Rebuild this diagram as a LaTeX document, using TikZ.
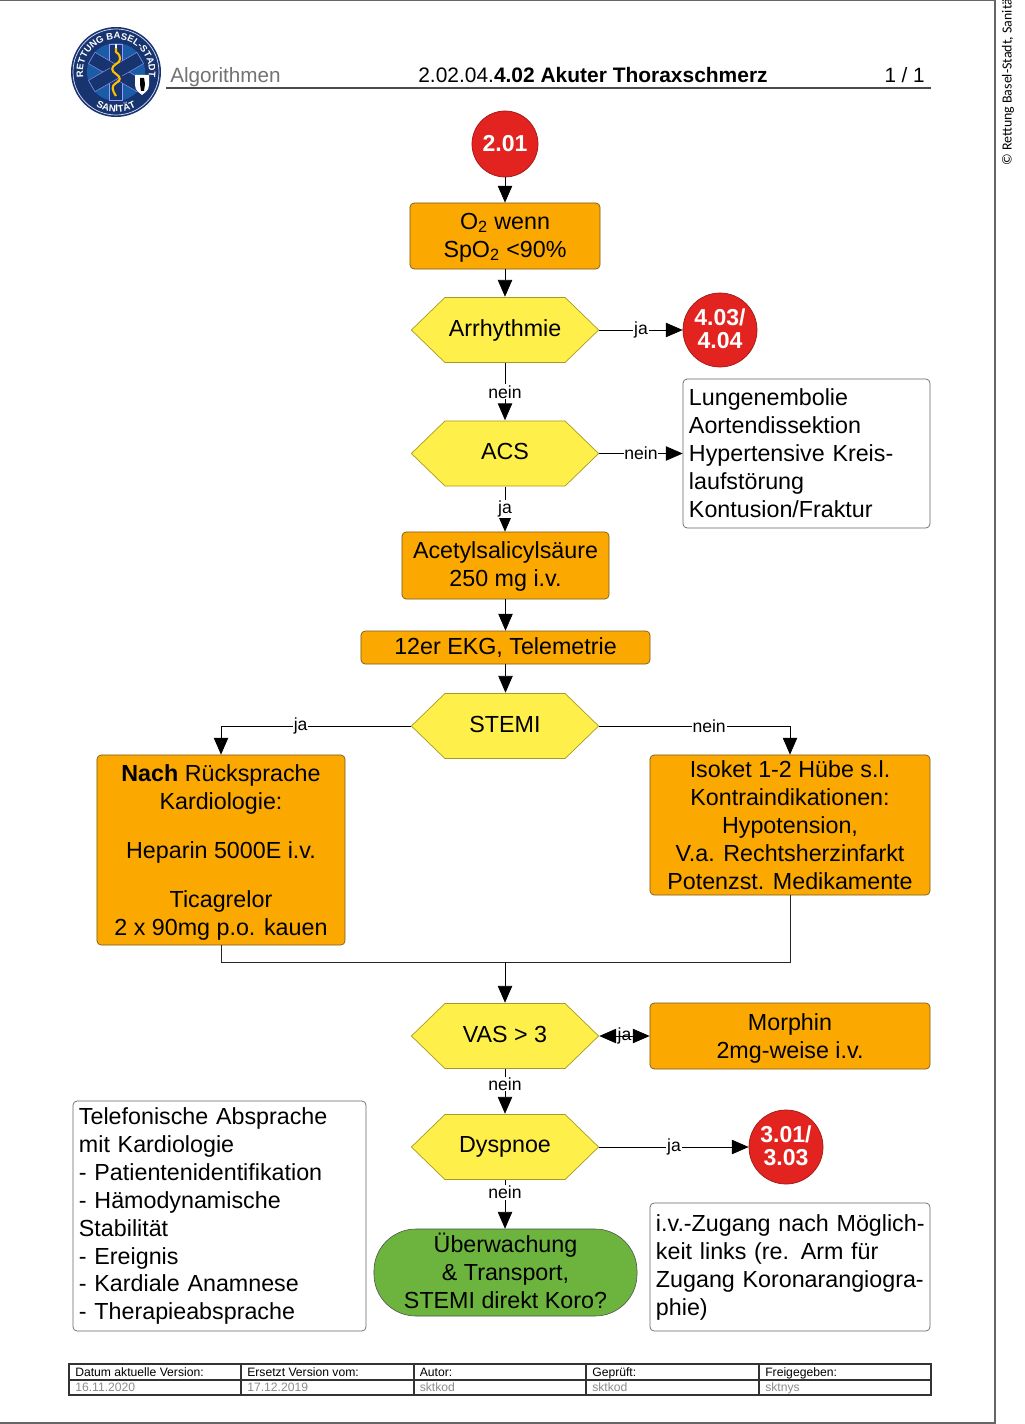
\documentclass[tikz,border=0pt]{standalone}
\usepackage{fontspec}
\setmainfont{Liberation Sans}
\newfontfamily\creditfont{Carlito}
\usetikzlibrary{arrows.meta,decorations.text}
\definecolor{boxorange}{HTML}{FBA900}
\definecolor{boxedge}{HTML}{7A5A1E}
\definecolor{hexyellow}{HTML}{FFEF4A}
\definecolor{hexedge}{HTML}{A89A20}
\definecolor{stopred}{HTML}{E3231F}
\definecolor{endgreen}{HTML}{6DB43F}
\definecolor{badgenavy}{HTML}{17346E}
\definecolor{badgeblue}{HTML}{1B5CA6}
\newcommand{\bodyfont}{\fontsize{16.55}{19.9}\selectfont}
\newcommand{\toppad}[1]{\rule{0pt}{#1}}
\newcommand{\lowpad}[1]{\rule[-#1]{0pt}{1pt}}
\tikzset{
	flow/.style={draw=black,line width=0.5pt,-{Triangle[length=4.2mm,width=3.6mm]}},
	plainline/.style={draw=black!85,line width=0.5pt},
	edgelabel/.style={fill=white,inner sep=0.6pt,font=\fontsize{12.5}{14}\selectfont},
	orangebox/.style={draw=boxedge,fill=boxorange,rounded corners=3pt,inner sep=0pt,align=center,font=\bodyfont,line width=0.5pt},
	notebox/.style={draw=black!60,fill=white,rounded corners=3pt,inner sep=0pt,align=left,font=\bodyfont,line width=0.5pt},
	decide/.style={rectangle,inner sep=0pt,minimum width=4.7cm,minimum height=1.65cm,align=center,font=\bodyfont,
		path picture={\draw[hexedge,fill=hexyellow,line width=0.5pt]
			([xshift=0.3pt]path picture bounding box.west)
			-- ([xshift=0.85cm,yshift=-0.3pt]path picture bounding box.north west)
			-- ([xshift=-0.85cm,yshift=-0.3pt]path picture bounding box.north east)
			-- ([xshift=-0.3pt]path picture bounding box.east)
			-- ([xshift=-0.85cm,yshift=0.3pt]path picture bounding box.south east)
			-- ([xshift=0.85cm,yshift=0.3pt]path picture bounding box.south west)
			-- cycle;}},
	jumpto/.style={circle,draw=stopred!70!black,fill=stopred,text=white,inner sep=0pt,align=center,line width=0.5pt,font=\fontsize{16.4}{16.4}\selectfont\bfseries},
	footcell/.style={anchor=base west,inner sep=0pt,font=\fontsize{8.65}{10}\selectfont},
}
\begin{document}
\begin{tikzpicture}[x=0.025cm,y=-0.025cm]
	\useasboundingbox (0,0) rectangle (1024,1424);
	\fill[white] (0,0) rectangle (1024,1424);
	% page frame
	\draw[black!60,line width=0.8pt] (0,0) -- (995,0) -- (995,1423) -- (0,1423);
	\node[rotate=90,anchor=west,inner sep=0pt,font=\creditfont\fontsize{9.9}{12}\selectfont] (credit) at (1008,166) {© Rettung Basel-Stadt, Sanität};

	% badge
	\begin{scope}[shift={(116,72)},x=0.025cm,y=0.025cm]
		\fill[badgenavy] (0,0) circle (45);
		\draw[white!85!blue,line width=0.5pt] (0,0) circle (43);
		\fill[badgeblue] (0,0) circle (29);
		\foreach \ang in {0,60,120}
			\draw[rotate=\ang,fill=badgenavy,draw=white!60!blue,line width=0.3pt] (-6.5,-28) rectangle (6.5,28);
		\fill[badgenavy] (-6,-6) rectangle (6,6);
		\draw[orange!50!yellow,line width=1.5pt] (0,24) -- (0,20) .. controls (6,16) and (5,10) .. (0,8) .. controls (-5,5) and (-5,1) .. (0,-2) .. controls (5,-5) and (5,-9) .. (0,-11) .. controls (-5,-14) and (-4,-18) .. (0,-24);
		\draw[white,line width=1pt] (0,24) -- (0,28);
		\fill[white] (19,-3) -- (33,-3) -- (33,-13) .. controls (33,-19) and (28,-21) .. (26,-23) .. controls (24,-21) and (19,-19) .. (19,-13) -- cycle;
		\fill[black] (24,-6) -- (28,-6) -- (29,-12) -- (28,-19) -- (25,-19) -- (24,-12) -- cycle;
		\path[decorate,decoration={text along path,text align=center,text={|\fontsize{6.7}{8}\selectfont\bfseries\color{white}|RETTUNG BASEL-STADT}}] (-31,-11.3) arc (200:-20:33);
		\path[decorate,decoration={text along path,text align=center,text={|\fontsize{6.9}{8}\selectfont\bfseries\color{white}|SANITÄT}}] (-31.5,-24.6) arc (218:322:40);
	\end{scope}

	% header
	\node[anchor=base west,inner sep=0pt,text=black!55,font=\fontsize{14.7}{17}\selectfont] (section) at (170,83) {Algorithmen};
	\node[anchor=base west,inner sep=0pt,font=\fontsize{14.9}{17}\selectfont] (title) at (418,83) {2.02.04.\textbf{4.02 Akuter Thoraxschmerz}};
	\node[anchor=base east,inner sep=0pt,font=\fontsize{14.7}{17}\selectfont] (page) at (925,83) {1 / 1};
	\draw[black!70,line width=0.8pt] (166,88) -- (931,88);

	% flow nodes
	\node[jumpto,minimum size=1.65cm] (start) at (505,144) {2.01};
	\node[orangebox,minimum width=4.75cm,minimum height=1.65cm] (oxygen) at (505,236) {\toppad{13.5pt}O\textsubscript{2} wenn\\SpO\textsubscript{2} <90\%};
	\node[decide] (arrhythmia) at (505,330) {Arrhythmie};
	\node[jumpto,minimum size=1.85cm] (arrhyjump) at (720,330) {4.03/\\4.04\lowpad{1.5pt}};
	\node[decide] (acs) at (505,453.5) {ACS\lowpad{3pt}};
	\node[notebox,minimum height=3.725cm,text width=5.875cm,inner xsep=0.15cm] (differential) at (806.5,453.5) {Lungenembolie\\Aortendissektion\\Hypertensive Kreis-\\laufstörung\\Kontusion/Fraktur};
	\node[orangebox,minimum width=5.175cm,minimum height=1.675cm] (aspirin) at (505.5,565.5) {\toppad{13.5pt}Acetylsalicylsäure\\250 mg i.v.};
	\node[orangebox,minimum width=7.225cm,minimum height=0.825cm] (ecg) at (505.5,647.5) {12er EKG, Telemetrie};
	\node[decide] (stemi) at (505,726) {STEMI\lowpad{2pt}};
	\node[orangebox,minimum width=6.2cm,minimum height=4.75cm] (heparin) at (221,850) {\toppad{15pt}\textbf{Nach} Rücksprache\\Kardiologie:\\[14.9pt]Heparin 5000E i.v.\\[14.9pt]Ticagrelor\\2 x 90mg p.o. kauen};
	\node[orangebox,minimum width=7cm,minimum height=3.5cm] (isoket) at (790,825) {Isoket 1-2 Hübe s.l.\\Kontraindikationen:\\Hypotension,\\V.a. Rechtsherzinfarkt\\Potenzst. Medikamente};
	\coordinate (merge) at (505,962);
	\node[decide] (vas) at (505,1036) {VAS > 3\lowpad{3pt}};
	\node[orangebox,minimum width=7cm,minimum height=1.65cm] (morphine) at (790,1036) {\toppad{15pt}Morphin\\2mg-weise i.v.};
	\node[decide] (dyspnea) at (505,1147) {Dyspnoe};
	\node[jumpto,minimum size=1.85cm] (dyspjump) at (786,1147) {3.01/\\3.03\lowpad{1.5pt}};
	\node[draw=black!70,fill=endgreen,rounded corners=1.05cm,inner sep=0pt,minimum width=6.575cm,minimum height=2.175cm,align=center,font=\bodyfont] (transport) at (505.5,1272.5) {Überwachung\\\& Transport,\\STEMI direkt Koro?\lowpad{3pt}};
	\node[notebox,minimum height=5.75cm,text width=7.025cm,inner xsep=0.15cm] (phonecall) at (219.5,1216) {Telefonische Absprache\\mit Kardiologie\\- Patientenidentifikation\\- Hämodynamische\\Stabilität\\- Ereignis\\- Kardiale Anamnese\\- Therapieabsprache};
	\node[notebox,minimum height=3.2cm,text width=6.7cm,inner xsep=0.15cm] (access) at (790,1267) {\mbox{i.v.-Zugang nach Möglich-}\\keit links (re. Arm für\\\mbox{Zugang Koronarangiogra-}\\phie)};

	% connectors
	\draw[flow] (start) -- (oxygen);
	\draw[flow] (oxygen) -- (arrhythmia);
	\draw[flow] (arrhythmia.east) -- node[edgelabel] {ja} (arrhyjump);
	\draw[flow] (arrhythmia) -- node[edgelabel] {nein} (acs);
	\draw[flow] (acs.east) -- node[edgelabel] {nein} (acs.east -| differential.west);
	\draw[flow] (acs) -- node[edgelabel] {ja} (acs |- aspirin.north);
	\draw[flow] (aspirin) -- (aspirin |- ecg.north);
	\draw[flow] (ecg) -- (ecg |- stemi.north);
	\draw[flow] (stemi.west) -| node[edgelabel,pos=.29] {ja} (heparin.north);
	\draw[flow] (stemi.east) -| node[edgelabel,pos=.288] {nein} (isoket.north);
	\draw[plainline] (heparin.south) |- (merge);
	\draw[plainline] (isoket.south) |- (merge);
	\draw[flow] (merge) -- (vas.north);
	\draw[flow,{Triangle[length=4.2mm,width=3.6mm]}-{Triangle[length=4.2mm,width=3.6mm]}] (vas.east) -- node[edgelabel,fill=none] {ja} (morphine.west);
	\draw[flow] (vas) -- node[edgelabel,pos=.33] {nein} (dyspnea);
	\draw[flow] (dyspnea.east) -- node[edgelabel] {ja} (dyspjump);
	\draw[flow] (dyspnea) -- node[edgelabel,pos=.25] {nein} (dyspnea |- transport.north);

	% footer table
	\draw[black!80,line width=1pt] (69,1364) rectangle (931,1395);
	\draw[black!80,line width=0.8pt] (69,1380) -- (931,1380);
	\foreach \xcol in {241,414,586,759}
		\draw[black!80,line width=0.8pt] (\xcol,1364) -- (\xcol,1395);
	\foreach \xcol/\head/\val in {75/Datum aktuelle Version:/16.11.2020,247/Ersetzt Version vom:/17.12.2019,419.5/Autor:/sktkod,592/Geprüft:/sktkod,765/Freigegeben:/sktnys}{
		\node[footcell] at (\xcol,1376) {\head};
		\node[footcell,text=black!45] at (\xcol,1391.5) {\val};
	}
\end{tikzpicture}
\end{document}
